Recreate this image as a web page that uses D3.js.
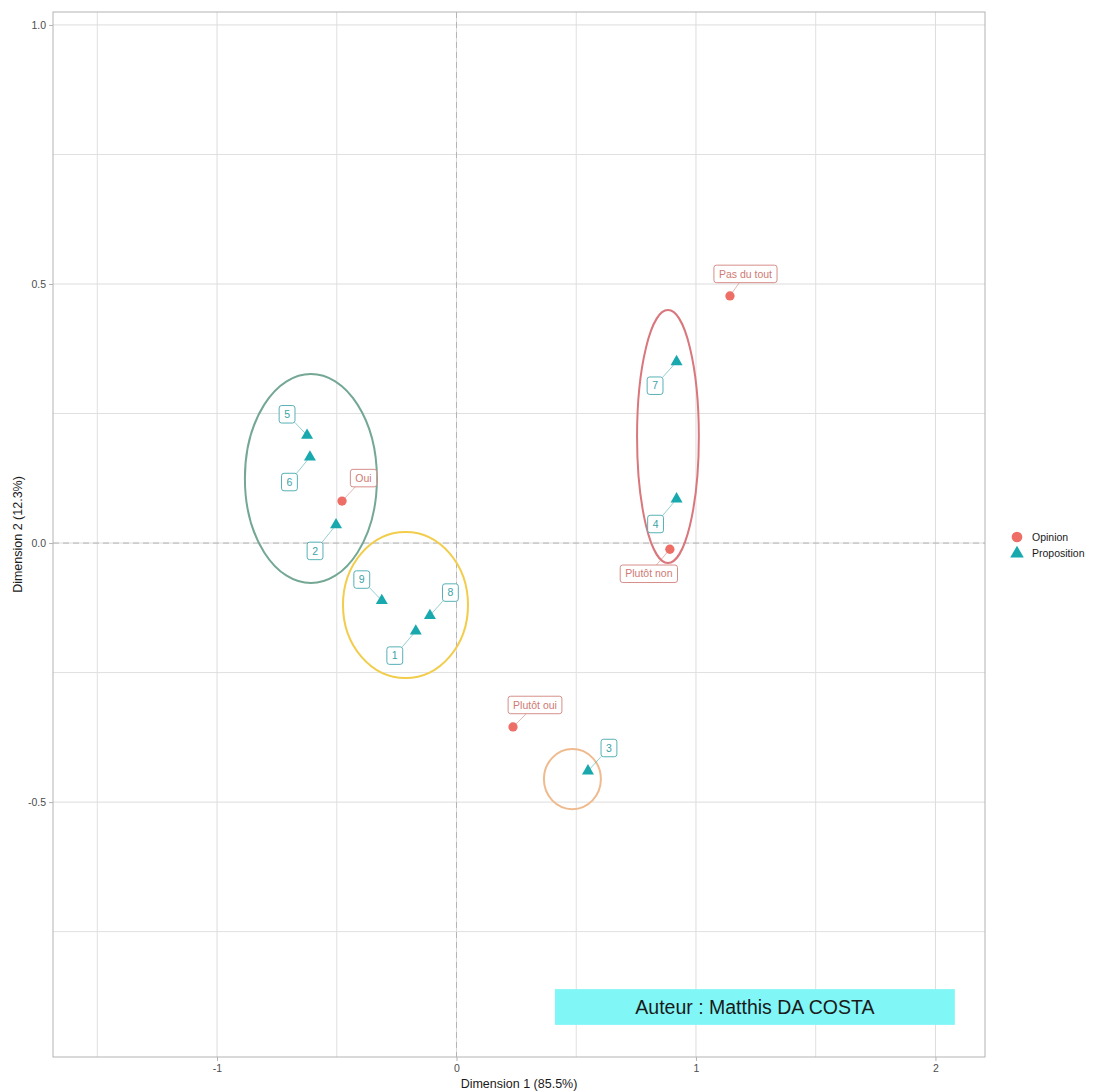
<!DOCTYPE html>
<html>
<head>
<meta charset="utf-8">
<script src="https://cdn.jsdelivr.net/npm/d3@7"></script>
<style>
  html, body { margin: 0; padding: 0; background: #ffffff; }
  svg { display: block; font-family: "Liberation Sans", Arial, sans-serif; }
</style>
</head>
<body>
<svg id="chart" width="1095" height="1092"></svg>
<script>
// ---------------- data ----------------
const opinionNames = ["Oui", "Plutôt oui", "Plutôt non", "Pas du tout"];
const opinionDim1  = [-0.478, 0.236, 0.891, 1.142];
const opinionDim2  = [0.081, -0.355, -0.012, 0.477];

const propositionNames = ["1", "2", "3", "4", "5", "6", "7", "8", "9"];
const propositionDim1  = [-0.170, -0.503, 0.549, 0.919, -0.624, -0.612, 0.919, -0.111, -0.312];
const propositionDim2  = [-0.170, 0.035, -0.440, 0.085, 0.208, 0.166, 0.350, -0.140, -0.111];

// groups (ellipses): centre and half-axes, in data units
const groupCx = [-0.608, -0.213, 0.883, 0.484];
const groupCy = [0.1245, -0.1197, 0.2056, -0.4556];
const groupRx = [0.2756, 0.261, 0.129, 0.119];
const groupRy = [0.2017, 0.141, 0.244, 0.058];

const xTicks = [-1, 0, 1, 2];
const yTicks = [-0.5, 0.0, 0.5, 1.0];
const xMinor = [-1.5, -0.5, 0.5, 1.5];
const yMinor = [-0.75, -0.25, 0.25, 0.75];

const legendNames = ["Opinion", "Proposition"];
const xTitle = "Dimension 1 (85.5%)";
const yTitle = "Dimension 2 (12.3%)";
const authorText = "Auteur : Matthis DA COSTA";
const authorBox = [0.411, 2.081, -0.861, -0.930]; // x0, x1, y0, y1 in data units

// ---------------- layout / styles ----------------
const panel = { left: 53, right: 985, top: 12, bottom: 1057 };
const colOpinion = "#ee6e66";
const colProp = "#17a9ae";
const colOpinionLab = "#cf7a74";
const colPropLab = "#3aa3a8";
const ellipseColors = ["#74a894", "#f2cd4c", "#d9777d", "#efbb8e"];
// label offsets (px) chosen by the repel layout
const opinionLabOff = [[21.5, -23], [22, -22], [-21, 24.5], [15.5, -22]];
const propLabOff = [[-21, 24.5], [-21, 26], [21, -23], [-21, 25], [-20, -21], [-20.5, 25], [-21.5, 24], [20.5, -23], [-20, -21]];

const svg = d3.select("#chart");

const x = d3.scaleLinear().domain([-1.685, 2.207]).range([panel.left, panel.right]);
const y = d3.scaleLinear().domain([-0.992, 1.025]).range([panel.bottom, panel.top]);

const gridCol = "#e0e0e0";
// grid
const g = svg.append("g");
g.selectAll(".vminor").data(xMinor).join("line")
  .attr("x1", d => x(d)).attr("x2", d => x(d))
  .attr("y1", panel.top).attr("y2", panel.bottom)
  .attr("stroke", gridCol).attr("stroke-width", 1);
g.selectAll(".hminor").data(yMinor).join("line")
  .attr("y1", d => y(d)).attr("y2", d => y(d))
  .attr("x1", panel.left).attr("x2", panel.right)
  .attr("stroke", gridCol).attr("stroke-width", 1);
g.selectAll(".vmajor").data(xTicks).join("line")
  .attr("x1", d => x(d)).attr("x2", d => x(d))
  .attr("y1", panel.top).attr("y2", panel.bottom)
  .attr("stroke", "#dcdcdc").attr("stroke-width", 1);
g.selectAll(".hmajor").data(yTicks).join("line")
  .attr("y1", d => y(d)).attr("y2", d => y(d))
  .attr("x1", panel.left).attr("x2", panel.right)
  .attr("stroke", "#dcdcdc").attr("stroke-width", 1);

// zero dashed lines
svg.append("line")
  .attr("x1", x(0)).attr("x2", x(0)).attr("y1", panel.top).attr("y2", panel.bottom)
  .attr("stroke", "#b5b5b5").attr("stroke-width", 1).attr("stroke-dasharray", "6,4");
svg.append("line")
  .attr("y1", y(0)).attr("y2", y(0)).attr("x1", panel.left).attr("x2", panel.right)
  .attr("stroke", "#b5b5b5").attr("stroke-width", 1).attr("stroke-dasharray", "6,4");

// panel border
svg.append("rect")
  .attr("x", panel.left).attr("y", panel.top)
  .attr("width", panel.right - panel.left).attr("height", panel.bottom - panel.top)
  .attr("fill", "none").attr("stroke", "#b3b3b3").attr("stroke-width", 1);

// axes
const xAxis = d3.axisBottom(x).tickValues(xTicks).tickFormat(d => String(d)).tickSize(4).tickPadding(4);
const yAxis = d3.axisLeft(y).tickValues(yTicks).tickFormat(d => d.toFixed(1)).tickSize(4).tickPadding(3);
const gx = svg.append("g").attr("transform", `translate(0,${panel.bottom})`).call(xAxis);
const gy = svg.append("g").attr("transform", `translate(${panel.left},0)`).call(yAxis);
[gx, gy].forEach(a => {
  a.select(".domain").remove();
  a.selectAll(".tick line").attr("stroke", "#b3b3b3");
  a.selectAll(".tick text").attr("fill", "#4d4d4d").style("font-size", "10.5px")
    .style("font-family", '"Liberation Sans", Arial, sans-serif');
});

// axis titles
svg.append("text")
  .attr("x", (panel.left + panel.right) / 2).attr("y", 1088)
  .attr("text-anchor", "middle").attr("fill", "#1a1a1a")
  .style("font-size", "12.5px").text(xTitle);
svg.append("text")
  .attr("transform", `translate(22,${(panel.top + panel.bottom) / 2}) rotate(-90)`)
  .attr("text-anchor", "middle").attr("fill", "#1a1a1a")
  .style("font-size", "12.5px").text(yTitle);

// ellipses
svg.selectAll(".ell").data(groupCx.map((c, i) => i)).join("ellipse")
  .attr("cx", i => x(groupCx[i]))
  .attr("cy", i => y(groupCy[i]))
  .attr("rx", i => x(groupRx[i]) - x(0))
  .attr("ry", i => y(0) - y(groupRy[i]))
  .attr("fill", "none")
  .attr("stroke", i => ellipseColors[i])
  .attr("stroke-width", 2);

// points
const opinions = opinionNames.map((n, i) => ({ name: n, px: x(opinionDim1[i]), py: y(opinionDim2[i]), off: opinionLabOff[i] }));
const props = propositionNames.map((n, i) => ({ name: n, px: x(propositionDim1[i]), py: y(propositionDim2[i]), off: propLabOff[i] }));

const triPath = d3.symbol().type(d3.symbolTriangle).size(62)();
const circPath = d3.symbol().type(d3.symbolCircle).size(68)();

svg.selectAll(".op").data(opinions).join("path")
  .attr("d", circPath).attr("transform", d => `translate(${d.px},${d.py})`)
  .attr("fill", colOpinion);
svg.selectAll(".pr").data(props).join("path")
  .attr("d", triPath).attr("transform", d => `translate(${d.px},${d.py})`)
  .attr("fill", colProp);

// labels (repel style)
function drawLabels(data, col) {
  const lg = svg.append("g");
  data.forEach(d => {
    const cx = d.px + d.off[0], cy = d.py + d.off[1];
    const t = lg.append("text")
      .attr("x", cx).attr("y", cy).attr("dy", "0.35em")
      .attr("text-anchor", "middle").attr("fill", col)
      .style("font-size", "10.5px").text(d.name);
    const w = t.node().getComputedTextLength() + 10;
    const h = 17.5;
    // segment from point to box edge
    const dx = d.px - cx, dy = d.py - cy;
    const s = Math.min(Math.abs((w / 2) / dx || Infinity), Math.abs((h / 2) / dy || Infinity));
    const ex = cx + dx * s, ey = cy + dy * s;
    lg.insert("line", "text")
      .attr("x1", d.px).attr("y1", d.py).attr("x2", ex).attr("y2", ey)
      .attr("stroke", col).attr("stroke-opacity", 0.6).attr("stroke-width", 0.9);
    lg.insert("rect", "text")
      .attr("x", cx - w / 2).attr("y", cy - h / 2).attr("width", w).attr("height", h)
      .attr("rx", 2.5).attr("ry", 2.5)
      .attr("fill", "#ffffff").attr("stroke", col).attr("stroke-opacity", 0.85).attr("stroke-width", 1);
  });
}
drawLabels(props, colPropLab);
drawLabels(opinions, colOpinionLab);

// author box
svg.append("rect")
  .attr("x", x(authorBox[0])).attr("y", y(authorBox[2]))
  .attr("width", x(authorBox[1]) - x(authorBox[0]))
  .attr("height", y(authorBox[3]) - y(authorBox[2]))
  .attr("fill", "#80f6f6");
svg.append("text")
  .attr("x", (x(authorBox[0]) + x(authorBox[1])) / 2)
  .attr("y", (y(authorBox[2]) + y(authorBox[3])) / 2).attr("dy", "0.36em")
  .attr("text-anchor", "middle").attr("fill", "#1a1a1a")
  .style("font-size", "19.5px").text(authorText);

// legend
const legY0 = 537, legDy = 16.5, legX = 1017;
const lg = svg.append("g");
lg.append("path").attr("d", d3.symbol().type(d3.symbolCircle).size(90)())
  .attr("transform", `translate(${legX},${legY0})`).attr("fill", colOpinion);
lg.append("path").attr("d", d3.symbol().type(d3.symbolTriangle).size(80)())
  .attr("transform", `translate(${legX},${legY0 + legDy})`).attr("fill", colProp);
lg.selectAll("text").data(legendNames).join("text")
  .attr("x", 1032).attr("y", (d, i) => legY0 + i * legDy).attr("dy", "0.35em")
  .attr("fill", "#1a1a1a").style("font-size", "10.5px").text(d => d);
</script>
</body>
</html>
